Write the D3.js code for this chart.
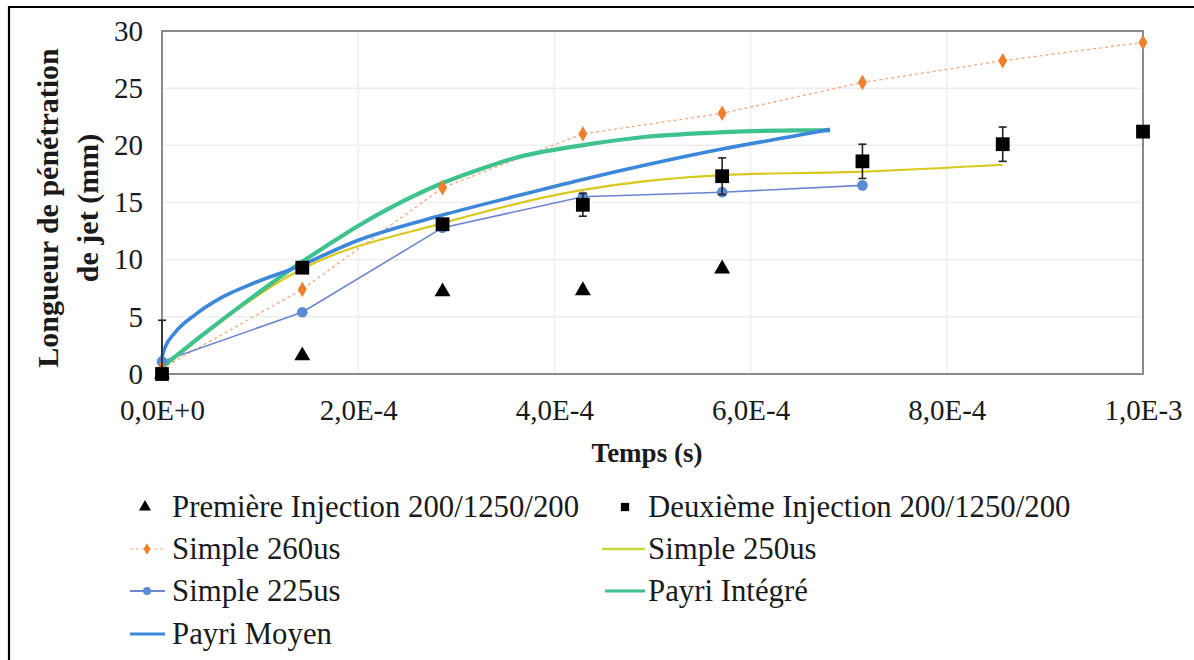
<!DOCTYPE html>
<html>
<head>
<meta charset="utf-8">
<script src="https://cdn.jsdelivr.net/npm/d3@7"></script>
<style>
  html, body { margin: 0; padding: 0; background: #fff; }
  svg { display: block; }
  text { font-family: "Liberation Serif", "Times New Roman", serif; fill: #1a1a1a; }
</style>
</head>
<body>
<svg id="chart" width="1194" height="660"></svg>
<script>
// ---------- DATA ----------
const times = [0, 1.43e-4, 2.86e-4, 4.29e-4, 5.71e-4, 7.14e-4, 8.57e-4, 1.0e-3];

const premiereInjection = [0, 1.6, 7.2, 7.3, 9.2];
const deuxiemeInjection = [0, 9.3, 13.1, 14.8, 17.3, 18.6, 20.1, 21.2];
const deuxiemeErreur    = [4.7, 0, 0.3, 1.0, 1.6, 1.5, 1.5, 0];

const simple260 = [0.5, 7.4, 16.3, 21.0, 22.8, 25.5, 27.4, 29.0];
const simple250 = [0.5, 9.2, 13.2, 16.1, 17.4, 17.7, 18.3];
const simple225 = [1.1, 5.4, 12.8, 15.5, 15.9, 16.5];

const payriIntegreT = [0, 0.44e-4, 0.95e-4, 1.39e-4, 1.64e-4, 1.99e-4, 2.32e-4, 2.86e-4, 3.34e-4, 3.58e-4, 4.28e-4, 4.94e-4, 5.72e-4, 6.5e-4, 6.81e-4];
const payriIntegreV = [0.6, 3.6, 6.9, 9.6, 11.0, 12.9, 14.5, 16.7, 18.2, 18.85, 20.0, 20.75, 21.15, 21.3, 21.3];

const payriMoyenT = [0, 0.03e-4, 0.13e-4, 0.34e-4, 0.61e-4, 0.95e-4, 1.36e-4, 2.0e-4, 2.86e-4, 3.58e-4, 4.28e-4, 4.94e-4, 5.72e-4, 6.5e-4, 6.81e-4];
const payriMoyenV = [1.5, 2.3, 3.6, 5.2, 6.7, 8.0, 9.3, 11.7, 13.9, 15.5, 17.0, 18.3, 19.7, 20.9, 21.4];

const xTicks = [0, 2e-4, 4e-4, 6e-4, 8e-4, 1e-3];
const xTickLabels = ["0,0E+0", "2,0E-4", "4,0E-4", "6,0E-4", "8,0E-4", "1,0E-3"];
const yTicks = [0, 5, 10, 15, 20, 25, 30];

const legendLabels = [
  "Première Injection 200/1250/200", "Deuxième Injection 200/1250/200",
  "Simple 260us", "Simple 250us",
  "Simple 225us", "Payri Intégré",
  "Payri Moyen"
];

// ---------- COLOURS ----------
const C = {
  orange: "#ee7f2d",
  orangeLine: "#f2a77a",
  yellow: "#d8c81c",
  blueS: "#5b8bd3",
  blueSLine: "#6c84d2",
  green: "#3fc28e",
  blueM: "#3b87d9",
  black: "#000"
};

// ---------- LAYOUT ----------
const svg = d3.select("#chart");
const L = 162, T = 31, R = 1143, B = 374;

const x = d3.scaleLinear().domain([0, 1e-3]).range([L, R]);
const y = d3.scaleLinear().domain([0, 30]).range([B, T]);

// outer border (top + left)
svg.append("line").attr("x1", 8).attr("x2", 1194).attr("y1", 7).attr("y2", 7)
  .attr("stroke", "#000").attr("stroke-width", 2.2);
svg.append("line").attr("x1", 9).attr("x2", 9).attr("y1", 6).attr("y2", 660)
  .attr("stroke", "#000").attr("stroke-width", 2.2);

// gridlines
const grid = svg.append("g");
grid.selectAll(".hg").data(yTicks.filter(d => d > 0 && d < 30)).join("line")
  .attr("x1", L).attr("x2", R).attr("y1", d => y(d)).attr("y2", d => y(d))
  .attr("stroke", "#ededed").attr("stroke-width", 1.5);
grid.selectAll(".vg").data(xTicks.filter(d => d > 0 && d < 1e-3)).join("line")
  .attr("x1", d => x(d)).attr("x2", d => x(d)).attr("y1", T).attr("y2", B)
  .attr("stroke", "#efefef").attr("stroke-width", 1.5);

// axes via d3
const yAxis = d3.axisLeft(y).tickValues(yTicks).tickSize(0).tickPadding(19);
const gy = svg.append("g").attr("transform", `translate(${L},0)`).call(yAxis);
gy.select(".domain").remove();
gy.selectAll("text").style("font-size", "29px").style("font-family", "Liberation Serif").attr("fill", "#1a1a1a");

const xAxis = d3.axisBottom(x).tickValues(xTicks).tickSize(0).tickPadding(25)
  .tickFormat((d, i) => xTickLabels[i]);
const gx = svg.append("g").attr("transform", `translate(0,${B})`).call(xAxis);
gx.select(".domain").remove();
gx.selectAll("text").style("font-size", "29px").style("font-family", "Liberation Serif").attr("fill", "#1a1a1a");

// plot frame
svg.append("rect").attr("x", L).attr("y", T).attr("width", R - L).attr("height", B - T)
  .attr("fill", "none").attr("stroke", "#8a8a8a").attr("stroke-width", 2);

// axis titles
svg.append("text").attr("x", 647).attr("y", 462).attr("text-anchor", "middle")
  .style("font-size", "27px").style("font-weight", "bold").text("Temps (s)");
const yl = svg.append("g").attr("transform", "translate(47,208) rotate(-90)");
yl.append("text").attr("x", 0).attr("y", 0).attr("text-anchor", "middle").attr("dominant-baseline", "central")
  .style("font-size", "30px").style("font-weight", "bold").text("Longueur de pénétration");
yl.append("text").attr("x", 0).attr("y", 40).attr("text-anchor", "middle").attr("dominant-baseline", "central")
  .style("font-size", "30px").style("font-weight", "bold").text("de jet (mm)");

// clip
svg.append("clipPath").attr("id", "clip").append("rect")
  .attr("x", L - 5).attr("y", T - 10).attr("width", R - L + 15).attr("height", B - T + 10);

const plot = svg.append("g");

const lineGen = (curve) => d3.line().x(d => x(d[0])).y(d => y(d[1])).curve(curve);
const zip = (ts, vs) => vs.map((v, i) => [ts[i], v]);

// Simple 260us line (thin dotted)
plot.append("path").datum(zip(times, simple260))
  .attr("d", lineGen(d3.curveLinear)).attr("fill", "none")
  .attr("stroke", C.orangeLine).attr("stroke-width", 1.3).attr("stroke-dasharray", "3,3");
// Simple 225us line
plot.append("path").datum(zip(times, simple225))
  .attr("d", lineGen(d3.curveLinear)).attr("fill", "none")
  .attr("stroke", C.blueSLine).attr("stroke-width", 1.6);
// Simple 250us line
plot.append("path").datum(zip(times, simple250))
  .attr("d", lineGen(d3.curveMonotoneX)).attr("fill", "none")
  .attr("stroke", C.yellow).attr("stroke-width", 2.2);
// Payri Intégré
plot.append("path").datum(zip(payriIntegreT, payriIntegreV))
  .attr("d", lineGen(d3.curveMonotoneX)).attr("fill", "none")
  .attr("stroke", C.green).attr("stroke-width", 4.2);
// Payri Moyen
plot.append("path").datum(zip(payriMoyenT, payriMoyenV))
  .attr("d", lineGen(d3.curveMonotoneX)).attr("fill", "none")
  .attr("stroke", C.blueM).attr("stroke-width", 3.6);

// markers
const diamond = d3.symbol().type(d3.symbolDiamond).size(70);
const tri = d3.symbol().type(d3.symbolTriangle).size(110);
const sq = d3.symbol().type(d3.symbolSquare).size(190);
const circ = d3.symbol().type(d3.symbolCircle).size(90);

plot.selectAll(".m225").data(zip(times, simple225)).join("path")
  .attr("d", circ).attr("transform", d => `translate(${x(d[0])},${y(d[1])})`).attr("fill", C.blueS);
plot.selectAll(".m260").data(zip(times, simple260)).join("path")
  .attr("d", diamond).attr("transform", d => `translate(${x(d[0])},${y(d[1])})`).attr("fill", C.orange);
plot.selectAll(".mtri").data(zip(times, premiereInjection)).join("path")
  .attr("d", tri).attr("transform", d => `translate(${x(d[0])},${y(d[1])})`).attr("fill", C.black);

// error bars for Deuxième
const eb = plot.append("g").attr("clip-path", "url(#clip)");
zip(times, deuxiemeInjection).forEach((d, i) => {
  const e = deuxiemeErreur[i];
  if (e <= 0) return;
  const cx = x(d[0]);
  eb.append("line").attr("x1", cx).attr("x2", cx).attr("y1", y(d[1] - e)).attr("y2", y(d[1] + e))
    .attr("stroke", "#222").attr("stroke-width", 1.6);
  [d[1] - e, d[1] + e].forEach(v => {
    eb.append("line").attr("x1", cx - 4).attr("x2", cx + 4).attr("y1", y(v)).attr("y2", y(v))
      .attr("stroke", "#222").attr("stroke-width", 1.6);
  });
});
plot.selectAll(".msq").data(zip(times, deuxiemeInjection)).join("path")
  .attr("d", sq).attr("transform", d => `translate(${x(d[0])},${y(d[1])})`).attr("fill", C.black);

// ---------- LEGEND ----------
const leg = svg.append("g");
const rows = [507, 549, 591, 634];
const col1Text = 172, col2Text = 648;
const legItems = [
  { label: legendLabels[0], tx: col1Text, ty: rows[0], marker: tri, mx: 145, color: C.black },
  { label: legendLabels[1], tx: col2Text, ty: rows[0], marker: sq, mx: 625, color: C.black, msize: 0.6 },
  { label: legendLabels[2], tx: col1Text, ty: rows[1], marker: diamond, mx: 147, color: C.orange, line: [130, 165], lc: C.orangeLine, lw: 1.2, dash: "3,3" },
  { label: legendLabels[3], tx: col2Text, ty: rows[1], line: [602, 645], lc: "#c9d83a", lw: 2.5 },
  { label: legendLabels[4], tx: col1Text, ty: rows[2], marker: circ, mx: 147, color: C.blueS, line: [130, 165], lc: C.blueSLine, lw: 2.2 },
  { label: legendLabels[5], tx: col2Text, ty: rows[2], line: [605, 645], lc: C.green, lw: 3 },
  { label: legendLabels[6], tx: col1Text, ty: rows[3], line: [130, 165], lc: C.blueM, lw: 3 }
];
legItems.forEach(it => {
  if (it.line) {
    leg.append("line").attr("x1", it.line[0]).attr("x2", it.line[1]).attr("y1", it.ty).attr("y2", it.ty)
      .attr("stroke", it.lc).attr("stroke-width", it.lw).attr("stroke-dasharray", it.dash || null);
  }
  if (it.marker) {
    const s = it.msize || 0.75;
    leg.append("path").attr("d", it.marker)
      .attr("transform", `translate(${it.mx},${it.ty}) scale(${s})`).attr("fill", it.color);
  }
  leg.append("text").attr("x", it.tx).attr("y", it.ty).attr("dominant-baseline", "central")
    .style("font-size", "30.8px").text(it.label);
});
</script>
</body>
</html>
